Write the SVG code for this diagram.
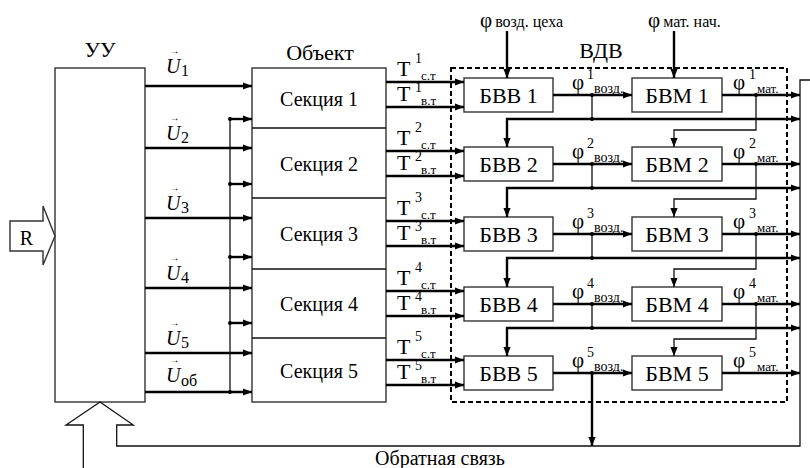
<svg xmlns="http://www.w3.org/2000/svg" width="810" height="468" viewBox="0 0 810 468">
<style>
text{font-family:"Liberation Serif","DejaVu Serif",serif;fill:#000}
.box{fill:#fff;stroke:#333;stroke-width:1.4}
.thin{fill:none;stroke:#111;stroke-width:1.3}
.thick{fill:none;stroke:#000;stroke-width:2.4}
.dash{fill:none;stroke:#000;stroke-width:2;stroke-dasharray:5 3}
.lbl{font-size:20px;text-anchor:middle}
.big{font-size:22px;text-anchor:middle}
.u{font-size:20px;font-style:italic}
.vec{font-size:10px;font-style:normal}
.sub{font-size:16px;font-style:normal}
.tt{font-size:22px}
.sm{font-size:13px}
.sup{font-size:14px}
.phi{font-size:21px}
</style>
<defs>
<marker id="ah" viewBox="0 0 10 8" refX="10" refY="4" markerWidth="9" markerHeight="7.5" markerUnits="userSpaceOnUse" orient="auto"><path d="M0,0 L10,4 L0,8 z" fill="#000"/></marker>
</defs>

<g id="dvd">
<rect class="dash" x="451" y="68" width="336" height="334"/>
<text class="big" x="601" y="58">ВДВ</text>
</g>

<g id="uu">
<rect class="box" x="55" y="68" width="90" height="334"/>
<text class="big" x="100" y="57">УУ</text>
</g>

<g id="r-input">
<polygon class="box" points="10,221 43,221 43,206 55,236 43,265 43,251 10,251"/>
<text class="lbl" x="26.5" y="245">R</text>
</g>

<g id="object">
<rect class="box" x="252" y="68" width="134" height="334"/>
<path class="thin" d="M252,128H386M252,198H386M252,269H386M252,338H386"/>
<text class="big" x="320" y="60">Объект</text>
<g id="section1"><text class="lbl" x="319" y="106">Секция 1</text></g>
<g id="section2"><text class="lbl" x="319" y="171">Секция 2</text></g>
<g id="section3"><text class="lbl" x="319" y="241">Секция 3</text></g>
<g id="section4"><text class="lbl" x="319" y="311">Секция 4</text></g>
<g id="section5"><text class="lbl" x="319" y="378">Секция 5</text></g>
</g>

<g id="bvv1"><rect class="box" x="464" y="78" width="89" height="34"/><text class="big" x="508.5" y="103">БВВ 1</text></g>
<g id="bvv2"><rect class="box" x="464" y="147" width="89" height="34"/><text class="big" x="508.5" y="172">БВВ 2</text></g>
<g id="bvv3"><rect class="box" x="464" y="217" width="89" height="34"/><text class="big" x="508.5" y="242">БВВ 3</text></g>
<g id="bvv4"><rect class="box" x="464" y="287" width="89" height="34"/><text class="big" x="508.5" y="312">БВВ 4</text></g>
<g id="bvv5"><rect class="box" x="464" y="356" width="89" height="34"/><text class="big" x="508.5" y="381">БВВ 5</text></g>

<g id="bvm1"><rect class="box" x="632" y="78" width="90" height="34"/><text class="big" x="677" y="103">БВМ 1</text></g>
<g id="bvm2"><rect class="box" x="632" y="147" width="90" height="34"/><text class="big" x="677" y="172">БВМ 2</text></g>
<g id="bvm3"><rect class="box" x="632" y="217" width="90" height="34"/><text class="big" x="677" y="242">БВМ 3</text></g>
<g id="bvm4"><rect class="box" x="632" y="287" width="90" height="34"/><text class="big" x="677" y="312">БВМ 4</text></g>
<g id="bvm5"><rect class="box" x="632" y="356" width="90" height="34"/><text class="big" x="677" y="381">БВМ 5</text></g>

<g id="labels">
<text class="u" x="166" y="73">U<tspan class="vec" x="169.5" y="54">→</tspan><tspan class="sub" x="181" y="76">1</tspan></text>
<text class="u" x="166" y="140">U<tspan class="vec" x="169.5" y="121">→</tspan><tspan class="sub" x="181" y="143">2</tspan></text>
<text class="u" x="166" y="210">U<tspan class="vec" x="169.5" y="191">→</tspan><tspan class="sub" x="181" y="213">3</tspan></text>
<text class="u" x="166" y="280">U<tspan class="vec" x="169.5" y="261">→</tspan><tspan class="sub" x="181" y="283">4</tspan></text>
<text class="u" x="166" y="345">U<tspan class="vec" x="169.5" y="326">→</tspan><tspan class="sub" x="181" y="348">5</tspan></text>
<text class="u" x="166" y="382">U<tspan class="vec" x="169.5" y="363">→</tspan><tspan class="sub" x="181" y="386">об</tspan></text>

<text class="tt" x="397" y="76">T</text><text class="sup" x="415" y="63">1</text><text class="sm" x="421" y="80">с.т</text>
<text class="tt" x="397" y="101">T</text><text class="sup" x="415" y="92">1</text><text class="sm" x="421" y="105">в.т</text>
<text class="tt" x="397" y="145">T</text><text class="sup" x="415" y="132">2</text><text class="sm" x="421" y="149">с.т</text>
<text class="tt" x="397" y="170">T</text><text class="sup" x="415" y="161">2</text><text class="sm" x="421" y="174">в.т</text>
<text class="tt" x="397" y="215">T</text><text class="sup" x="415" y="202">3</text><text class="sm" x="421" y="219">с.т</text>
<text class="tt" x="397" y="240">T</text><text class="sup" x="415" y="231">3</text><text class="sm" x="421" y="244">в.т</text>
<text class="tt" x="397" y="285">T</text><text class="sup" x="415" y="272">4</text><text class="sm" x="421" y="289">с.т</text>
<text class="tt" x="397" y="310">T</text><text class="sup" x="415" y="301">4</text><text class="sm" x="421" y="314">в.т</text>
<text class="tt" x="397" y="354">T</text><text class="sup" x="415" y="341">5</text><text class="sm" x="421" y="358">с.т</text>
<text class="tt" x="397" y="379">T</text><text class="sup" x="415" y="370">5</text><text class="sm" x="421" y="383">в.т</text>

<text class="phi" x="480" y="27">φ<tspan font-size="16" dx="3">возд. цеха</tspan></text>
<text class="phi" x="648" y="27">φ<tspan font-size="16" dx="3">мат. нач.</tspan></text>

<text class="phi" x="572" y="89">φ</text><text class="sup" x="587" y="79">1</text><text font-size="14" x="594" y="93">возд.</text>
<text class="phi" x="572" y="158">φ</text><text class="sup" x="587" y="148">2</text><text font-size="14" x="594" y="162">возд.</text>
<text class="phi" x="572" y="228">φ</text><text class="sup" x="587" y="218">3</text><text font-size="14" x="594" y="232">возд.</text>
<text class="phi" x="572" y="298">φ</text><text class="sup" x="587" y="288">4</text><text font-size="14" x="594" y="302">возд.</text>
<text class="phi" x="572" y="367">φ</text><text class="sup" x="587" y="357">5</text><text font-size="14" x="594" y="371">возд.</text>

<text class="phi" x="733" y="89">φ</text><text class="sup" x="749" y="79">1</text><text class="sm" x="757" y="93">мат.</text>
<text class="phi" x="733" y="158">φ</text><text class="sup" x="749" y="148">2</text><text class="sm" x="757" y="162">мат.</text>
<text class="phi" x="733" y="228">φ</text><text class="sup" x="749" y="218">3</text><text class="sm" x="757" y="232">мат.</text>
<text class="phi" x="733" y="298">φ</text><text class="sup" x="749" y="288">4</text><text class="sm" x="757" y="302">мат.</text>
<text class="phi" x="733" y="367">φ</text><text class="sup" x="749" y="357">5</text><text class="sm" x="757" y="371">мат.</text>

<text class="lbl" x="440" y="465">Обратная связь</text>
</g>

<g id="connectors">
<g class="thick" marker-end="url(#ah)">
<path d="M145,86H252"/><path d="M145,148H252"/><path d="M145,218H252"/>
<path d="M145,288H252"/><path d="M145,353H252"/><path d="M145,392H252"/>
<path d="M230,119H252"/><path d="M230,184H252"/><path d="M230,257H252"/><path d="M230,323H252"/>
</g>
<path class="thin" d="M230,119V392"/>
<g class="thick" marker-end="url(#ah)">
<path d="M386,82H464"/><path d="M386,107H464"/>
<path d="M386,151H464"/><path d="M386,176H464"/>
<path d="M386,221H464"/><path d="M386,246H464"/>
<path d="M386,291H464"/><path d="M386,316H464"/>
<path d="M386,360H464"/><path d="M386,385H464"/>
<path d="M507,31V78"/><path d="M674,31V78"/>
<path d="M553,95H632"/><path d="M553,164H632"/><path d="M553,234H632"/><path d="M553,304H632"/><path d="M553,373H632"/>
<path d="M722,95H800"/><path d="M722,164H800"/><path d="M722,234H800"/><path d="M722,304H800"/><path d="M722,373H800"/>
<path d="M592,119H800"/><path d="M592,119H507V147"/>
<path d="M592,188H800"/><path d="M592,188H507V217"/>
<path d="M592,258H800"/><path d="M592,258H507V287"/>
<path d="M592,328H800"/><path d="M592,328H507V356"/>
<path d="M592,373V446"/>
</g>
<path class="thin" d="M592,95V119M592,164V188M592,234V258M592,304V328"/>
<g class="thin" marker-end="url(#ah)">
<path d="M756,95V130H674V147"/>
<path d="M756,164V199H674V217"/>
<path d="M756,234V269H674V287"/>
<path d="M756,304V339H674V356"/>
</g>
<path class="thin" d="M83.3,468V425H66L100,402L133.3,425H116.7V446H800V80H810"/>
<g fill="#000">
<circle cx="230" cy="119" r="2"/><circle cx="230" cy="184" r="2"/><circle cx="230" cy="257" r="2"/><circle cx="230" cy="323" r="2"/><circle cx="230" cy="392" r="2"/>
<circle cx="592" cy="95" r="2"/><circle cx="592" cy="164" r="2"/><circle cx="592" cy="234" r="2"/><circle cx="592" cy="304" r="2"/><circle cx="592" cy="373" r="2"/>
<circle cx="592" cy="119" r="2"/><circle cx="592" cy="188" r="2"/><circle cx="592" cy="258" r="2"/><circle cx="592" cy="328" r="2"/>
<circle cx="756" cy="95" r="2"/><circle cx="756" cy="164" r="2"/><circle cx="756" cy="234" r="2"/><circle cx="756" cy="304" r="2"/>
</g>
</g>
</svg>
